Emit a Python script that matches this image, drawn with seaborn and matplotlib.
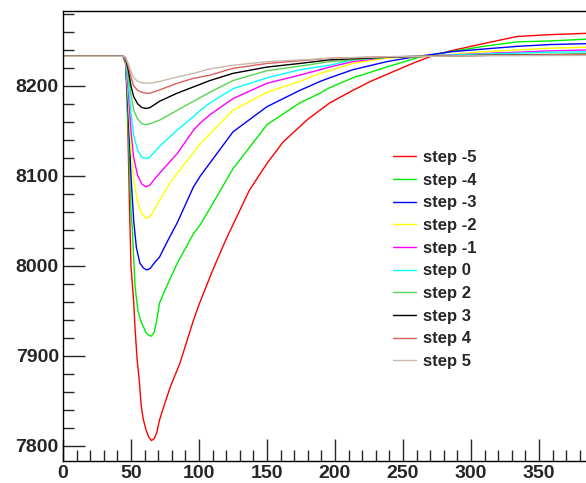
import numpy as np
import pandas as pd
import matplotlib
matplotlib.use("Agg")
import matplotlib.pyplot as plt
import seaborn as sns
from matplotlib.ticker import MultipleLocator

labels = ["step -5", "step -4", "step -3", "step -2", "step -1",
          "step 0", "step 2", "step 3", "step 4", "step 5"]
colors = ["#ff0000", "#00ee00", "#0000ff", "#ffff00", "#ff00ff",
          "#00ffff", "#59d354", "#000000", "#d9605f", "#c9b8ad"]

x_m5 = [0, 44, 46, 47, 48, 49, 50, 52, 53, 54.5, 56, 57.5, 59, 61, 63, 65, 67, 69, 71, 75, 79, 86, 96, 100, 110, 120, 137, 150, 162, 180, 196, 213, 226, 243, 257, 270, 285, 309, 334, 358, 385]
y_m5 = [8233, 8233, 8225, 8200, 8130, 8060, 8000, 7960, 7930, 7896, 7874, 7845, 7830, 7818, 7810, 7806, 7808, 7815, 7829, 7848, 7866, 7892, 7940, 7957, 7995, 8030, 8084, 8114, 8138, 8163, 8181, 8195, 8205, 8216, 8225, 8232.6, 8239, 8247, 8255, 8257, 8258.5]

x_m4 = [0, 44, 46, 48, 50, 51, 53, 55, 57, 59, 61, 63, 65, 67, 69, 71, 77, 84, 96, 101, 108, 125, 150, 174, 189, 196, 213, 238, 262, 285, 309, 334, 358, 385]
y_m4 = [8233, 8233, 8226, 8150, 8060, 8040, 7977, 7951, 7940, 7933, 7926, 7923, 7922, 7926, 7940, 7959, 7980, 8003, 8036, 8046, 8064, 8108, 8157, 8181, 8192, 8198, 8209, 8221, 8232, 8238, 8244, 8249, 8250, 8252]

x_m3 = [0, 44, 46, 48, 50, 52, 54, 56.6, 59, 61.5, 64, 67, 71, 77, 84, 96, 101, 125, 150, 174, 189, 196, 213, 238, 257, 285, 309, 334, 358, 385]
y_m3 = [8233, 8233, 8228, 8170, 8100, 8050, 8020, 8003, 7998, 7995.6, 7997, 8003, 8010, 8028, 8048, 8088, 8100, 8149, 8177, 8195, 8205, 8209, 8218, 8227, 8232, 8238, 8241, 8244, 8246, 8247]

x_m2 = [0, 44, 46, 48, 50, 52, 55, 58, 61, 64, 67, 71, 79, 101, 125, 150, 174, 189, 196, 213, 238, 270, 309, 358, 385]
y_m2 = [8233, 8233, 8229, 8185, 8130, 8095, 8070, 8058, 8053, 8055, 8062, 8073, 8093, 8136, 8173, 8193, 8205, 8214, 8217, 8225, 8231, 8233, 8238, 8242, 8243]

x_m1 = [0, 44, 46, 48, 50, 52, 55, 58, 61, 64, 67, 71, 84, 96, 101, 108, 125, 150, 174, 189, 196, 213, 238, 270, 309, 358, 385]
y_m1 = [8233, 8233, 8229, 8195, 8150, 8120, 8100, 8091, 8088, 8090, 8096, 8103, 8125, 8151, 8159, 8168, 8186, 8203, 8212, 8218, 8221, 8227, 8232, 8233.5, 8236, 8239, 8240]

x_0 = [0, 44, 46, 48, 50, 52, 55, 58, 60, 63, 67, 71, 84, 96, 101, 108, 125, 150, 174, 196, 213, 238, 270, 309, 358, 385]
y_0 = [8233, 8233, 8230, 8205, 8170, 8145, 8128, 8121, 8119.6, 8120, 8126, 8133, 8151, 8166, 8173, 8181, 8197, 8209, 8218, 8223, 8229, 8232, 8233.5, 8235.5, 8237.5, 8238]

x_p2 = [0, 44, 46, 48, 50, 52, 55, 58, 61, 64, 71, 84, 96, 108, 125, 150, 174, 196, 238, 270, 309, 385]
y_p2 = [8233, 8233, 8230, 8212, 8190, 8173, 8163, 8158, 8157, 8158, 8162, 8173, 8183, 8193, 8206, 8217, 8222, 8227, 8232, 8233, 8234, 8236]

x_p3 = [0, 44, 46, 48, 50, 52, 55, 58, 61, 64, 71, 84, 96, 108, 125, 150, 174, 196, 238, 270, 309, 385]
y_p3 = [8233, 8233, 8231, 8218, 8200, 8188, 8180, 8176, 8175, 8176, 8183, 8192, 8199, 8206, 8214, 8221, 8225, 8229, 8232, 8233, 8234, 8235]

x_p4 = [0, 44, 46, 48, 50, 52, 55, 58, 61, 64, 71, 84, 96, 108, 125, 150, 196, 238, 270, 309, 385]
y_p4 = [8233, 8233, 8231, 8222, 8210, 8200, 8195, 8193, 8192, 8192, 8195.6, 8203, 8208.5, 8212, 8219.6, 8225, 8230.7, 8232.5, 8233, 8234, 8235]

x_p5 = [0, 44, 46, 48, 50, 52, 55, 58, 62, 66, 71, 84, 96, 108, 125, 150, 196, 238, 270, 309, 385]
y_p5 = [8233, 8233, 8232, 8225, 8216, 8209, 8205, 8203.5, 8203, 8203.5, 8205, 8210, 8214, 8219, 8223, 8227, 8230.7, 8232.5, 8233, 8233.5, 8234]

xs = [x_m5, x_m4, x_m3, x_m2, x_m1, x_0, x_p2, x_p3, x_p4, x_p5]
ys = [y_m5, y_m4, y_m3, y_m2, y_m1, y_0, y_p2, y_p3, y_p4, y_p5]

rows = []
for lab, xx, yy in zip(labels, xs, ys):
    for a, b in zip(xx, yy):
        rows.append((lab, a, b))
df = pd.DataFrame(rows, columns=["step", "x", "value"])

sns.set_style("ticks")
plt.rcParams["font.family"] = ["Liberation Sans", "DejaVu Sans"]

fig = plt.figure(figsize=(5.86, 4.83), dpi=100)
ax = fig.add_axes([63 / 586, 22 / 483, 1 - 63 / 586, (461 - 11) / 483])

sns.lineplot(data=df, x="x", y="value", hue="step", hue_order=labels,
             palette=dict(zip(labels, colors)), estimator=None, sort=True,
             linewidth=1.0, ax=ax)

ax.set_xlim(0, 384.6)
ax.set_ylim(7783.3, 8283.3)
ax.set_xlabel("")
ax.set_ylabel("")
ax.xaxis.set_major_locator(MultipleLocator(50))
ax.xaxis.set_minor_locator(MultipleLocator(10))
ax.yaxis.set_major_locator(MultipleLocator(100))
ax.yaxis.set_minor_locator(MultipleLocator(20))
ax.tick_params(which="major", direction="in", length=16, width=1, pad=3,
               labelsize=14, top=False, right=False)
ax.tick_params(which="minor", direction="in", length=8, width=1,
               top=False, right=False)
for lab in ax.get_xticklabels() + ax.get_yticklabels():
    lab.set_fontweight("bold")
for s in ["left", "bottom", "top"]:
    ax.spines[s].set_visible(True)
    ax.spines[s].set_linewidth(1.0)
    ax.spines[s].set_color("black")
ax.spines["right"].set_visible(False)

handles, lbls = ax.get_legend_handles_labels()
leg = ax.legend(handles, lbls, loc="upper left",
                bbox_to_anchor=((393 - 63) / 523, 1 - (150 - 11) / 450),
                frameon=False, prop={"weight": "bold", "size": 12},
                handlelength=1.35, handletextpad=0.45, labelspacing=0.46,
                borderaxespad=0, borderpad=0)

fig.savefig("out.png", dpi=100)
